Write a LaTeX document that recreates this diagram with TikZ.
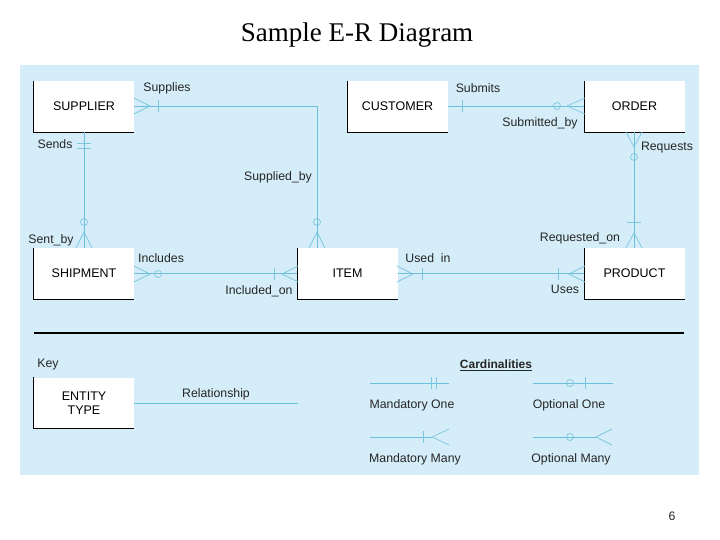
\documentclass[tikz,border=0pt]{standalone}
\usepackage{fontspec}
\setmainfont{Liberation Serif}
\newfontfamily\sans{Liberation Sans}
\usetikzlibrary{calc}
\definecolor{bgblue}{HTML}{D4EDF9}
\definecolor{relblue}{HTML}{6BBFDB}
\definecolor{mkblue}{HTML}{7CC6DF}
\tikzset{
  entity/.style={fill=white, minimum width=100pt, minimum height=51pt, inner sep=0pt,
    font=\sans\fontsize{12.5}{14}\selectfont, align=center},
  lbl/.style={inner sep=0pt, font=\sans\fontsize{12.3}{14}\selectfont, text=black!85},
  rel/.style={draw=relblue, line width=0.9pt},
  mk/.style={draw=mkblue, line width=0.7pt},
  edgeline/.style={draw=black, line width=1.1pt}
}
\begin{document}
\begin{tikzpicture}[x=1pt,y=-1pt]
\useasboundingbox (0,0) rectangle (720,540);
\fill[white] (0,0) rectangle (720,540);
\fill[bgblue] (20,65) rectangle (699,475);
\node[font=\fontsize{27}{30}\selectfont] (title) at (357,35) {Sample E-R Diagram};
\node[lbl] (page) at (672,516) {6};

% entities
\node[entity] (sup) at (84,106.5) {SUPPLIER};
\node[entity] (cus) at (397.5,106.5) {CUSTOMER};
\node[entity] (ord) at (634.5,106.5) {ORDER};
\node[entity] (shp) at (84,273.5) {SHIPMENT};
\node[entity] (itm) at (347.5,273.5) {ITEM};
\node[entity] (prd) at (634.5,273.5) {PRODUCT};
\node[entity] (ent) at (84,403) {ENTITY\\TYPE};
\foreach \n in {sup,cus,ord,shp,itm,prd,ent}
  \draw[edgeline] (\n.north west) -- (\n.south west) -- (\n.south east);

% separator
\coordinate (sepL) at (34,333);
\coordinate (sepR) at (684,333);
\draw[black, line width=1.1pt] (sepL) -- (sepR);

% relationships
\coordinate (itmTop) at (317,248);
\coordinate (bend) at (317,106.5);
\draw[rel] (sup.east) -- (bend) -- (itmTop);
\draw[rel] (sup.south) -- (shp.north);
\draw[rel] (cus.east) -- (ord.west);
\draw[rel] (ord.south) -- (prd.north);
\draw[rel] (shp.east) -- (itm.west);
\draw[rel] (itm.east) -- (prd.west);

% markers: SUPPLIER-ITEM
\draw[mk] (134,98) -- (150,106) -- (134,114);
\draw[mk] (158,100) -- (158,112);
\draw[mk] (317,222) circle[radius=3.5pt];
\draw[mk] (309,248) -- (317,232) -- (325,248);
% SUPPLIER-SHIPMENT
\draw[mk] (77,143) -- (91,143) (77,148) -- (91,148);
\draw[mk] (84,222) circle[radius=3.5pt];
\draw[mk] (76,248) -- (84,232) -- (92,248);
% CUSTOMER-ORDER
\draw[mk] (462,100) -- (462,112);
\draw[mk] (557,106) circle[radius=3.5pt];
\draw[mk] (585,98) -- (567,106) -- (585,114);
% ORDER-PRODUCT
\draw[mk] (626,132) -- (634,147) -- (642,132);
\draw[mk] (634,157) circle[radius=3.5pt];
\draw[mk] (627,222) -- (641,222);
\draw[mk] (626,248) -- (634,233) -- (642,248);
% SHIPMENT-ITEM
\draw[mk] (134,266) -- (150,274) -- (134,282);
\draw[mk] (158,274) circle[radius=3.5pt];
\draw[mk] (274,268) -- (274,280);
\draw[mk] (298,266) -- (282,274) -- (298,282);
% ITEM-PRODUCT
\draw[mk] (397,266) -- (413,274) -- (397,282);
\draw[mk] (422,268) -- (422,280);
\draw[mk] (558,268) -- (558,280);
\draw[mk] (585,266) -- (569,274) -- (585,282);

% relationship labels
\node[lbl] (l1) at (167,88) {Supplies};
\node[lbl] (l2) at (278,177) {Supplied\_by};
\node[lbl] (l3) at (55,144) {Sends};
\node[lbl] (l4) at (51,240) {Sent\_by};
\node[lbl] (l5) at (478,88) {Submits};
\node[lbl] (l6) at (540,123) {Submitted\_by};
\node[lbl] (l7) at (667,148) {Requests};
\node[lbl] (l8) at (580,238) {Requested\_on};
\node[lbl] (l9) at (161,258) {Includes};
\node[lbl] (l10) at (259,291) {Included\_on};
\node[lbl] (l11) at (428,258) {Used\ \ in};
\node[lbl] (l12) at (565,289) {Uses};

% key
\node[lbl] (key) at (48,365) {Key};
\coordinate (relend) at (298,403);
\draw[rel] (ent.east) -- (relend);
\node[lbl] (relname) at (216,394) {Relationship};
\node[lbl, font=\sans\bfseries\fontsize{12}{14}\selectfont] (card) at (496,365) {\underline{Cardinalities}};

% mandatory one
\coordinate (m1a) at (370,383); \coordinate (m1b) at (449,383);
\draw[rel] (m1a) -- (m1b);
\draw[mk] (431,377) -- (431,389) (436,377) -- (436,389);
\node[lbl] (m1) at (412,405) {Mandatory One};
% optional one
\coordinate (o1a) at (533,383); \coordinate (o1b) at (613,383);
\draw[rel] (o1a) -- (o1b);
\draw[mk] (570,383) circle[radius=3.5pt];
\draw[mk] (585,377) -- (585,389);
\node[lbl] (o1) at (569,405) {Optional One};
% mandatory many
\coordinate (m2a) at (370,437); \coordinate (m2b) at (432,437);
\draw[rel] (m2a) -- (m2b);
\draw[mk] (423,431) -- (423,443);
\draw[mk] (449,429) -- (432,437) -- (449,445);
\node[lbl] (m2) at (415,459) {Mandatory Many};
% optional many
\coordinate (o2a) at (533,437); \coordinate (o2b) at (596,437);
\draw[rel] (o2a) -- (o2b);
\draw[mk] (570,437) circle[radius=3.5pt];
\draw[mk] (612,429) -- (596,437) -- (612,445);
\node[lbl] (o2) at (571,459) {Optional Many};
\end{tikzpicture}
\end{document}
